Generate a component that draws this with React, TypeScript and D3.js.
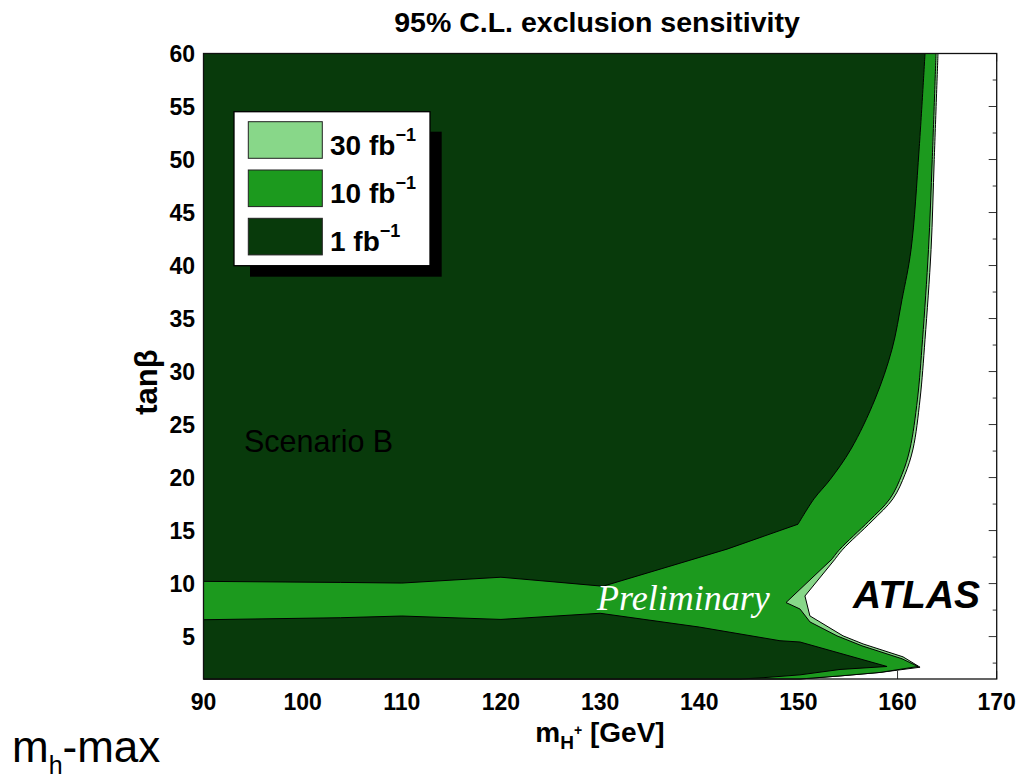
import * as d3 from "d3";

// exclusion contours, points are [m_H+ (GeV), tanβ]
const contour30fb = [
  [164.08, 60], [163.7, 50], [163.38, 41.5], [162.77, 33.0], [162.27, 27.4], [161.56, 22.7],
  [160.75, 20.3], [159.54, 18.0], [157.43, 15.9], [154.5, 13.25], [153.69, 12.3], [150.66, 8.83],
  [151.16, 6.95], [154.5, 5.07], [156.52, 4.31], [160.55, 3.09], [162.27, 2.11],
  [158.23, 1.62], [154.2, 1.29], [150.16, 1.0],
];
const contour10fb = [
  [163.88, 60], [163.5, 50], [163.12, 41.5], [162.52, 33.0], [162.01, 27.4], [161.25, 22.7],
  [160.45, 20.3], [159.23, 18.0], [157.11, 15.9], [154.19, 13.25], [153.38, 12.3], [148.75, 8.21],
  [150.16, 7.6], [151.17, 6.38], [153.89, 5.07], [156.41, 4.13], [160.45, 2.91],
  [162.07, 2.18], [158.23, 1.62], [154.2, 1.29], [150.16, 1.0],
];
// 1 fb-1 : upper piece (right edge then top of the band) and lower piece
const contour1fbUpper = [
  [162.77, 60], [162.17, 50.9], [161.36, 41.5], [160.45, 36.8], [159.44, 32.1],
  [157.73, 27.4], [155.31, 22.7], [153.19, 19.8], [151.58, 18.0], [149.96, 15.6],
  [142.8, 13.25], [130.29, 9.75], [125.96, 10.11], [120, 10.6], [110, 10.05], [103.8, 10.11],
  [90, 10.21],
];
const contour1fbLower = [
  [90, 6.59], [103.8, 6.78], [110, 6.94], [120, 6.62], [130, 7.2], [140, 5.9],
  [148.14, 4.61], [150.16, 4.49], [158.94, 2.18], [154.2, 1.9], [150.16, 1.39],
  [146.13, 1.1], [144.1, 1.0],
];
// the high-tanβ branch of each contour is smooth, the rest is piecewise linear
const smoothUpTo = { fb30: 10, fb10: 10, fb1: 9 };

const xTicks = [90, 100, 110, 120, 130, 140, 150, 160, 170];
const yTicks = [5, 10, 15, 20, 25, 30, 35, 40, 45, 50, 55, 60];
const yMinorTicks = [2.5, 7.5, 12.5, 17.5, 22.5, 27.5, 32.5, 37.5, 42.5, 47.5, 52.5, 57.5];

const legendLumi = ["30", "10", "1"];
const colors = { fb30: "#88d789", fb10: "#1c9a1e", fb1: "#083a0b" };
const legendColors = [colors.fb30, colors.fb10, colors.fb1];

const W = 1032;
const H = 782;
const plot = { left: 203.5, right: 996.7, top: 53.5, bottom: 679 };
const sans = "'Liberation Sans', Arial, Helvetica, sans-serif";

export default function App() {
  const x = d3.scaleLinear().domain([90, 170]).range([plot.left, plot.right]);
  const y = d3.scaleLinear().domain([1, 60]).range([plot.bottom, plot.top]);

  const smooth = d3
    .line<number[]>()
    .x((d) => x(d[0]))
    .y((d) => y(d[1]))
    .curve(d3.curveCatmullRom.alpha(0.5));

  const corner = (m: number, t: number) => `L${x(m)},${y(t)}`;

  // smooth part first, then straight segments to the end of the contour
  const contourPath = (pts: number[][], k: number) =>
    smooth(pts.slice(0, k + 1)) + pts.slice(k + 1).map((p) => corner(p[0], p[1])).join("");

  // regions closed against the left/bottom/top of the frame
  const area30 = contourPath(contour30fb, smoothUpTo.fb30) + corner(90, 1) + corner(90, 60) + "Z";
  const area10 = contourPath(contour10fb, smoothUpTo.fb10) + corner(90, 1) + corner(90, 60) + "Z";
  const area1up = contourPath(contour1fbUpper, smoothUpTo.fb1) + corner(90, 60) + "Z";
  const area1low = contourPath(contour1fbLower, 0) + corner(90, 1) + "Z";

  const xTickLen = 8;

  return (
    <svg
      width={W}
      height={H}
      style={{ position: "absolute", left: 0, top: 0, background: "#fff" }}
      fontFamily={sans}
    >
      {/* ticks (under the patches, like the original) */}
      <g stroke="#333" strokeWidth={1}>
        {xTicks.map((t) => (
          <g key={"xt" + t}>
            <line x1={x(t)} x2={x(t)} y1={plot.bottom} y2={plot.bottom - xTickLen} />
            <line x1={x(t)} x2={x(t)} y1={plot.top} y2={plot.top + xTickLen} />
          </g>
        ))}
        {yTicks.map((t) => (
          <g key={"yt" + t}>
            <line x1={plot.left} x2={plot.left + 8} y1={y(t)} y2={y(t)} />
            <line x1={plot.right} x2={plot.right - 8} y1={y(t)} y2={y(t)} />
          </g>
        ))}
        {yMinorTicks.map((t) => (
          <g key={"ym" + t}>
            <line x1={plot.left} x2={plot.left + 4} y1={y(t)} y2={y(t)} />
            <line x1={plot.right} x2={plot.right - 4} y1={y(t)} y2={y(t)} />
          </g>
        ))}
      </g>

      {/* exclusion regions */}
      <g stroke="#000" strokeWidth={1} strokeLinejoin="round">
        <path d={area30} fill={colors.fb30} />
        <path d={area10} fill={colors.fb10} />
        <path d={area1up} fill={colors.fb1} />
        <path d={area1low} fill={colors.fb1} />
      </g>

      {/* frame */}
      <rect
        x={plot.left}
        y={plot.top}
        width={plot.right - plot.left}
        height={plot.bottom - plot.top}
        fill="none"
        stroke="#111"
        strokeWidth={1.3}
      />

      {/* tick labels */}
      <g fontSize={23} fontWeight="bold" fill="#000">
        {xTicks.map((t) => (
          <text key={"xl" + t} x={x(t)} y={710} textAnchor="middle">
            {t}
          </text>
        ))}
        {yTicks.map((t) => (
          <text key={"yl" + t} x={195} y={y(t) + 8} textAnchor="end">
            {t}
          </text>
        ))}
      </g>

      {/* title and axis labels */}
      <text x={597} y={32} textAnchor="middle" fontSize={28.5} fontWeight="bold">
        95% C.L. exclusion sensitivity
      </text>
      <text x={600} y={742} textAnchor="middle" fontSize={28} fontWeight="bold">
        m
        <tspan fontSize={19} dy={7}>H</tspan>
        <tspan fontSize={14} dy={-14}>+</tspan>
        <tspan fontSize={28} dy={7}> [GeV]</tspan>
      </text>
      <text
        transform="translate(157,382) rotate(-90)"
        textAnchor="middle"
        fontSize={31}
        fontWeight="bold"
      >
        tanβ
      </text>

      {/* legend */}
      <rect x={250} y={131.7} width={191.7} height={145} fill="#000" />
      <rect x={234} y={111.7} width={196} height={154} fill="#fff" stroke="#000" strokeWidth={1.3} />
      {legendLumi.map((l, i) => {
        const top = 121.7 + i * 48.3;
        return (
          <g key={l}>
            <rect x={248.3} y={top} width={74} height={36.6} fill={legendColors[i]} stroke="#222" strokeWidth={1} />
            <text x={330} y={top + 33} fontSize={28} fontWeight="bold">
              {l} fb
              <tspan fontSize={18} dy={-14}>−1</tspan>
            </text>
          </g>
        );
      })}

      {/* annotations */}
      <text x={244} y={452} fontSize={30.5} fill="#000">
        Scenario B
      </text>
      <text
        x={597}
        y={610}
        fontSize={36}
        fontStyle="italic"
        fill="#fff"
        fontFamily="'Liberation Serif', 'Times New Roman', serif"
      >
        Preliminary
      </text>
      <text x={853} y={608} fontSize={39} fontWeight="bold" fontStyle="italic">
        ATLAS
      </text>
      <text x={12} y={762} fontSize={44}>
        m
        <tspan fontSize={25} dy={12}>h</tspan>
        <tspan fontSize={44} dy={-12}>-max</tspan>
      </text>
    </svg>
  );
}
